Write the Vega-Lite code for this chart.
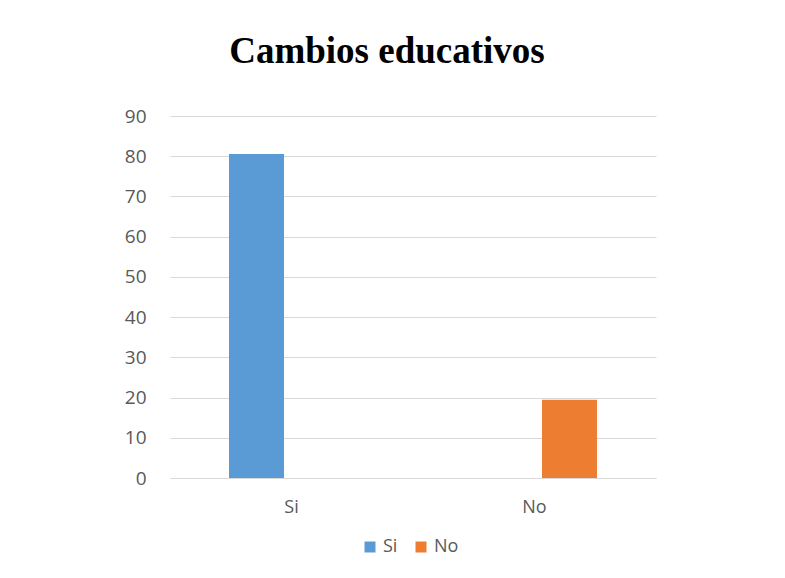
{
  "$schema": "https://vega.github.io/schema/vega-lite/v6.json",
  "width": 486,
  "height": 362,
  "autosize": {"type": "none"},
  "padding": {"left": 170, "top": 116, "right": 129, "bottom": 100},
  "background": "white",
  "title": {
    "text": "Cambios educativos",
    "font": "Liberation Serif",
    "fontSize": 37,
    "fontWeight": "bold",
    "color": "#000000",
    "anchor": "middle",
    "dx": -26,
    "baseline": "alphabetic",
    "offset": 7
  },
  "data": {
    "values": [
      {"categoria": "Si", "serie": "Si", "valor": 80.56},
      {"categoria": "No", "serie": "No", "valor": 19.44}
    ]
  },
  "mark": {"type": "bar"},
  "encoding": {
    "x": {
      "field": "categoria",
      "type": "nominal",
      "sort": ["Si", "No"],
      "scale": {"paddingInner": 0.424, "paddingOuter": 0.212},
      "axis": {
        "title": null,
        "labelAngle": 0,
        "labelFont": "Open Sans",
        "labelFontSize": 18,
        "labelColor": "#595959",
        "labelPadding": 20,
        "ticks": false,
        "domainColor": "#D9D9D9",
        "domainWidth": 1
      }
    },
    "xOffset": {
      "field": "serie",
      "type": "nominal",
      "sort": ["Si", "No"],
      "scale": {"paddingInner": 0.214, "paddingOuter": 0.107}
    },
    "y": {
      "field": "valor",
      "type": "quantitative",
      "scale": {"domain": [0, 90], "nice": false},
      "axis": {
        "title": null,
        "values": [0, 10, 20, 30, 40, 50, 60, 70, 80, 90],
        "labelOverlap": false,
        "labelFont": "Open Sans",
        "labelFontSize": 19,
        "labelColor": "#595959",
        "labelPadding": 24,
        "ticks": false,
        "domain": false,
        "gridColor": "#D9D9D9",
        "gridWidth": 1
      }
    },
    "color": {
      "field": "serie",
      "type": "nominal",
      "sort": ["Si", "No"],
      "scale": {"domain": ["Si", "No"], "range": ["#5B9BD5", "#ED7D31"]},
      "legend": {
        "title": null,
        "orient": "none",
        "direction": "horizontal",
        "legendX": 191,
        "legendY": 422,
        "symbolType": "square",
        "symbolSize": 121,
        "symbolStrokeWidth": 0,
        "labelFont": "Open Sans",
        "labelFontSize": 18,
        "labelColor": "#595959",
        "columnPadding": 14,
        "labelOffset": 4
      }
    }
  },
  "config": {
    "view": {"stroke": null}
  }
}
